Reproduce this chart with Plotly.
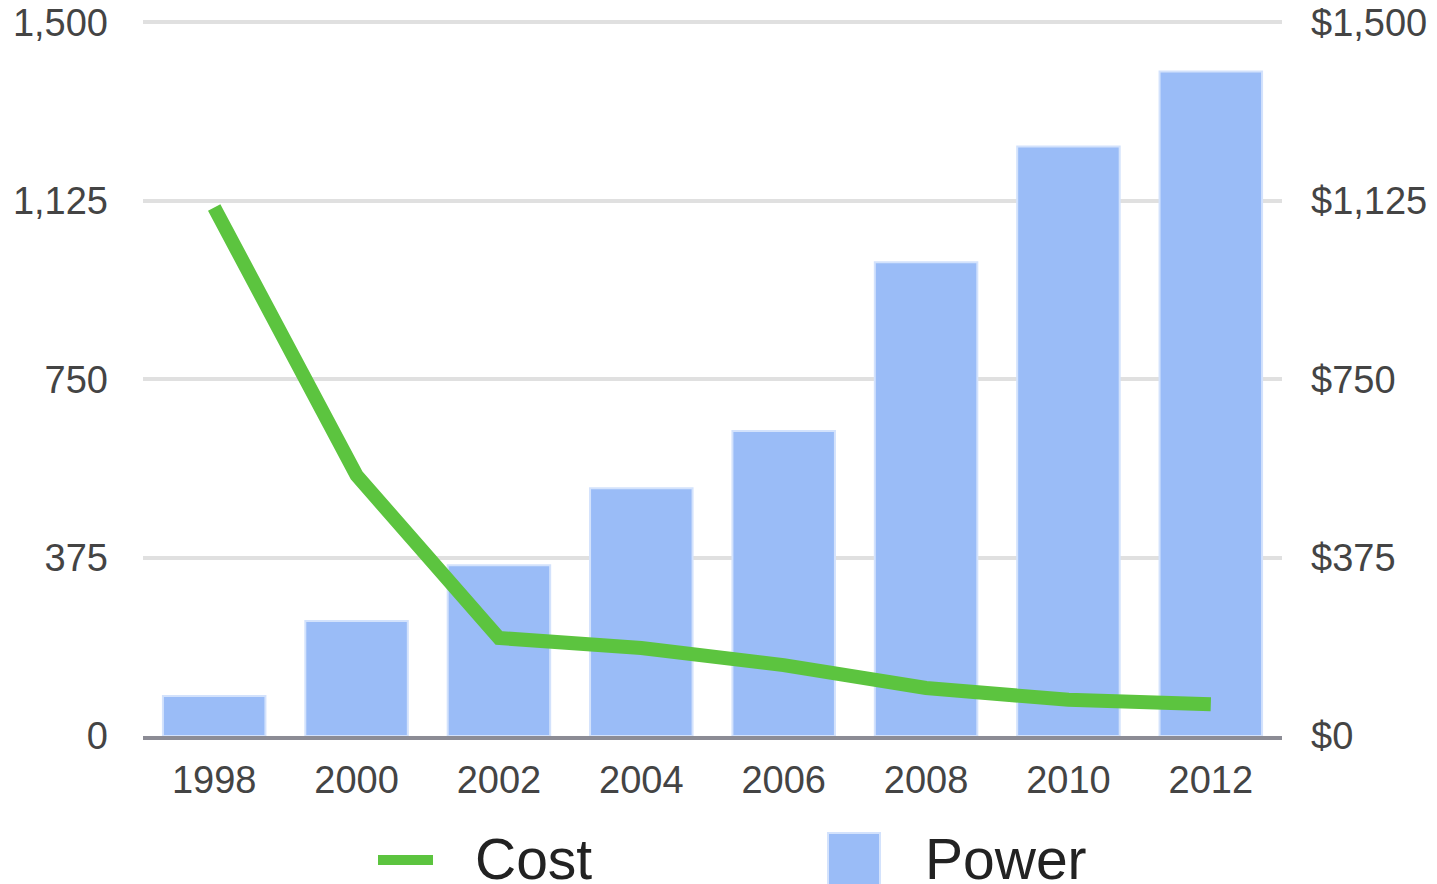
import plotly.graph_objects as go

# ---- data ----
years = ["1998", "2000", "2002", "2004", "2006", "2008", "2010", "2012"]
power = [84, 242, 359, 521, 641, 996, 1239, 1397]
cost = [1111, 548, 206, 185, 149, 101, 76, 67]
left_ticks = [0, 375, 750, 1125, 1500]
left_tick_text = ["0", "375", "750", "1,125", "1,500"]
right_tick_text = ["$0", "$375", "$750", "$1,125", "$1,500"]

GREEN = "#5cc43f"
BLUE = "#9abcf7"
FONT = "Liberation Sans, Arial, sans-serif"

W, H = 1437, 884
OFF = 8  # page body margin
YMAX = 1503  # a hair above the last tick so its gridline is drawn
# desired plot area in page pixels
PL, PR, PT, PB = 143, 1282, 21, 736
L, T = PL - OFF, PT - OFF
R = W - (PR - OFF)
B = H - (PB - OFF)
PW, PH = PR - PL, PB - PT


def px(x):
    return (x - PL) / PW


def py(y):
    return (PB - y) / PH


fig = go.Figure()
fig.add_trace(go.Bar(
    x=years, y=power, name="Power",
    marker=dict(color=BLUE, line=dict(color="#d3e2fc", width=2)),
    yaxis="y", showlegend=False,
))
fig.add_trace(go.Scatter(
    x=years, y=cost, name="Cost", mode="lines",
    line=dict(color=GREEN, width=14),
    yaxis="y2", showlegend=False,
))

axis_font = dict(family=FONT, size=38, color="#444")

fig.update_layout(
    width=W, height=H,
    margin=dict(l=L, r=R, t=T, b=B, autoexpand=False),
    paper_bgcolor="white", plot_bgcolor="white",
    bargap=0.28,
    font=dict(family=FONT),
    xaxis=dict(
        type="category", showgrid=False, tickfont=axis_font,
        showline=True, linecolor="rgba(120,120,130,0.85)", linewidth=4,
        ticks="", ticklabelstandoff=7, layer="above traces",
    ),
    yaxis=dict(
        range=[0, YMAX], tickvals=left_ticks, ticktext=left_tick_text,
        showgrid=True, gridcolor="#e0e0e0", gridwidth=4,
        zeroline=False, tickfont=axis_font, ticks="",
        ticklabelstandoff=34, showline=False, ticklabeloverflow="allow",
    ),
    yaxis2=dict(
        range=[0, YMAX], tickvals=left_ticks, ticktext=right_tick_text,
        overlaying="y", side="right", showgrid=False, zeroline=False,
        tickfont=axis_font, ticks="", ticklabelstandoff=28,
        ticklabeloverflow="allow",
    ),
    shapes=[
        dict(type="line", xref="paper", yref="paper",
             x0=px(378), x1=px(433), y0=py(860), y1=py(860),
             line=dict(color=GREEN, width=10)),
        dict(type="rect", xref="paper", yref="paper",
             x0=px(828), x1=px(880), y0=py(833), y1=py(895),
             fillcolor=BLUE, line=dict(color="#d3e2fc", width=2)),
    ],
    annotations=[
        dict(text="Cost", xref="paper", yref="paper", x=px(473), y=py(859),
             xanchor="left", yanchor="middle", showarrow=False,
             font=dict(family=FONT, size=57, color="#222")),
        dict(text="Power", xref="paper", yref="paper", x=px(923), y=py(859),
             xanchor="left", yanchor="middle", showarrow=False,
             font=dict(family=FONT, size=57, color="#222")),
    ],
)

fig.write_html("out.html")
